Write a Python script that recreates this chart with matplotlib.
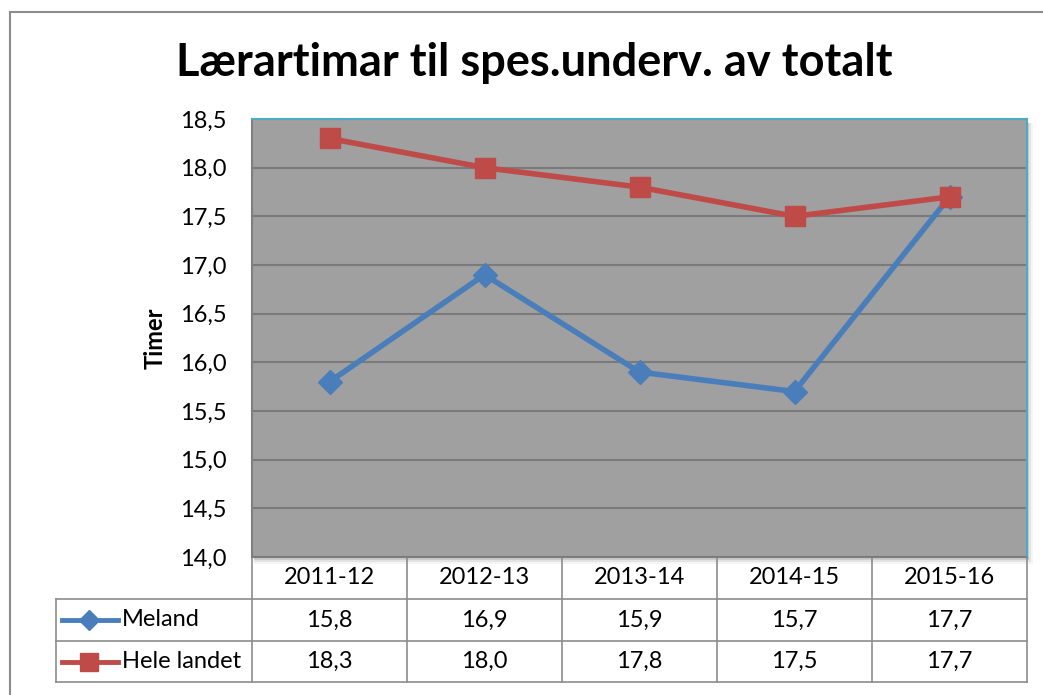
import numpy as np
import matplotlib.pyplot as plt
from matplotlib.lines import Line2D
from matplotlib.patches import Rectangle

# data
seasons = ['2011-12', '2012-13', '2013-14', '2014-15', '2015-16']
meland = [15.8, 16.9, 15.9, 15.7, 17.7]
hele_landet = [18.3, 18.0, 17.8, 17.5, 17.7]
yticks = np.arange(14.0, 18.51, 0.5)

plt.rcParams['font.family'] = ['Lato', 'DejaVu Sans']

W, H = 1043, 695
fig = plt.figure(figsize=(W / 100, H / 100), dpi=100)

def fx(px):
    return px / W

def fy(py):
    return 1 - py / H

# outer chart border (runs off the right and bottom of the crop)
fig.add_artist(Rectangle((fx(10), fy(760)), fx(1100) - fx(10), fy(12) - fy(760),
                         transform=fig.transFigure, fill=False, ec='#8c8c8c', lw=1.5))

L, R, T, B = 252, 1027, 119, 557
# soft shadow under the plot area
for k, a in enumerate([0.10, 0.07, 0.04]):
    fig.add_artist(Rectangle((fx(L + 2), fy(B + 3 + k * 2)), fx(R + 2 + k * 2) - fx(L + 2),
                             fy(T + 4) - fy(B + 3 + k * 2), transform=fig.transFigure,
                             fc='black', ec='none', alpha=a, zorder=0))

ax = fig.add_axes([fx(L), fy(B), fx(R) - fx(L), fy(T) - fy(B)])
ax.set_facecolor('#a0a0a0')
ax.set_zorder(2)

x = np.arange(len(seasons))
ax.plot(x, meland, color='#4a7ebb', lw=4, marker='D', ms=12, zorder=3)
ax.plot(x, hele_landet, color='#be4b48', lw=4, marker='s', ms=15, zorder=4)

ax.set_xlim(-0.5, len(seasons) - 0.5)
ax.set_ylim(14.0, 18.5)
ax.set_yticks(yticks)
ax.set_yticklabels([f'{v:.1f}'.replace('.', ',') for v in yticks], fontsize=17)
ax.set_xticks([])
ax.tick_params(axis='y', length=0, pad=18)
ax.yaxis.grid(True, color='#7a7a7a', lw=1.5)
ax.set_axisbelow(True)
for s in ['top', 'right']:
    ax.spines[s].set_color('#4bacc6')
    ax.spines[s].set_linewidth(1.5)
ax.spines['left'].set_color('#7f7f7f')
ax.spines['left'].set_linewidth(1.5)
ax.spines['bottom'].set_color('#7f7f7f')

ax.set_ylabel('Timer', fontsize=17, fontweight='bold', labelpad=10)

fig.text(fx(534), fy(63), 'Lærartimar til spes.underv. av totalt', ha='center', va='center',
         fontsize=32.5, fontweight='bold')

# data table under the plot
tc = '#8c8c8c'
rows_y = [557, 599, 641, 682]
ncol = len(seasons)
col_x = [L + (R - L) * i / ncol for i in range(ncol + 1)]
tab_left = 56
for cx in col_x:
    fig.add_artist(Line2D([fx(cx), fx(cx)], [fy(rows_y[0]), fy(rows_y[-1])], color=tc, lw=1.2))
fig.add_artist(Line2D([fx(tab_left), fx(tab_left)], [fy(rows_y[1]), fy(rows_y[-1])], color=tc, lw=1.2))
for ry in rows_y[1:]:
    fig.add_artist(Line2D([fx(tab_left), fx(R)], [fy(ry), fy(ry)], color=tc, lw=1.2))

for i, s in enumerate(seasons):
    cx = (col_x[i] + col_x[i + 1]) / 2
    fig.text(fx(cx), fy((rows_y[0] + rows_y[1]) / 2), s, ha='center', va='center', fontsize=17)

series = [('Meland', meland, '#4a7ebb', 'D', 10), ('Hele landet', hele_landet, '#be4b48', 's', 13)]
for r, (name, vals, col, mk, ms) in enumerate(series):
    yc = (rows_y[r + 1] + rows_y[r + 2]) / 2
    fig.add_artist(Line2D([fx(62), fx(118)], [fy(yc), fy(yc)], color=col, lw=3.5))
    fig.add_artist(Line2D([fx(89)], [fy(yc)], color=col, marker=mk, ms=ms, lw=0))
    fig.text(fx(122), fy(yc), name, ha='left', va='center', fontsize=17)
    for i, v in enumerate(vals):
        cx = (col_x[i] + col_x[i + 1]) / 2
        fig.text(fx(cx), fy(yc), f'{v:.1f}'.replace('.', ','), ha='center', va='center', fontsize=17)

fig.savefig('out.png', dpi=100)
